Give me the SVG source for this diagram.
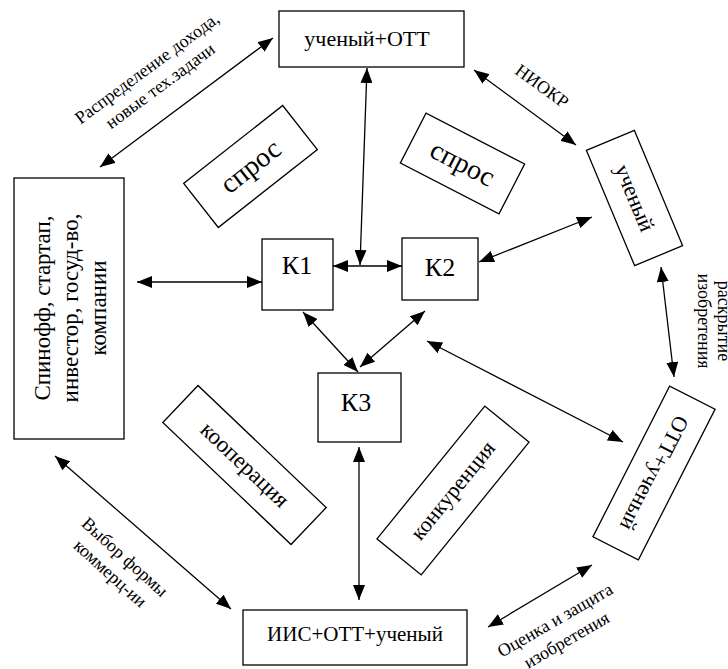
<svg xmlns="http://www.w3.org/2000/svg" width="728" height="669" viewBox="0 0 728 669">
<style>
.box{fill:#fff;stroke:#000;stroke-width:1.3}
.t{font-family:"Liberation Serif","Times New Roman",serif;fill:#000;text-anchor:middle}
.big{font-size:22px}
.k{font-size:26px}
.sp{font-size:28px}
.lbl{font-size:18px}
.c line{stroke:#000;stroke-width:1.3;marker-start:url(#ah);marker-end:url(#ah)}
</style>
<defs>
<marker id="ah" markerUnits="userSpaceOnUse" markerWidth="16" markerHeight="12" refX="15" refY="6" orient="auto-start-reverse">
<path d="M0,0 L15,6 L0,12 z" fill="#000"/>
</marker>
</defs>
<rect width="728" height="669" fill="#fff"/>

<g id="connectors" class="c">
<line x1="100" y1="167" x2="273" y2="38"/>
<line x1="367" y1="68" x2="360" y2="265"/>
<line x1="333" y1="266" x2="402" y2="266"/>
<line x1="137" y1="282" x2="262" y2="282"/>
<line x1="303" y1="312" x2="358" y2="372"/>
<line x1="425" y1="311" x2="360" y2="367"/>
<line x1="359" y1="447" x2="359" y2="600"/>
<line x1="479" y1="262" x2="592" y2="217"/>
<line x1="474" y1="70" x2="576" y2="145"/>
<line x1="661" y1="267" x2="674" y2="377"/>
<line x1="427" y1="341" x2="623" y2="442"/>
<line x1="55" y1="456" x2="231" y2="609"/>
<line x1="488" y1="627" x2="592" y2="565"/>
</g>

<g id="n_top">
<rect class="box" x="279" y="11" width="185" height="56"/>
<text class="t big" x="367" y="46">ученый+ОТТ</text>
</g>

<g id="n_left">
<rect class="box" x="14" y="178" width="110" height="261"/>
<g transform="translate(69,308) rotate(-90)">
<text class="t" font-size="23" x="0" y="-19">Спинофф, стартап,</text>
<text class="t" font-size="23" x="0" y="9">инвестор, госуд-во,</text>
<text class="t" font-size="23" x="0" y="37">компании</text>
</g>
</g>

<g id="n_k1">
<rect class="box" x="262" y="239" width="71" height="71"/>
<text class="t k" x="297" y="274">К1</text>
</g>

<g id="n_k2">
<rect class="box" x="402" y="238" width="76" height="62"/>
<text class="t k" x="440" y="276">К2</text>
</g>

<g id="n_k3">
<rect class="box" x="318" y="373" width="83" height="69"/>
<text class="t k" x="356" y="411">К3</text>
</g>

<g id="n_bottom">
<rect class="box" x="243" y="610" width="224" height="55"/>
<text class="t" font-size="21" x="355" y="641">ИИС+ОТТ+ученый</text>
</g>

<g id="n_sci" transform="translate(634.5,198) rotate(67.3)">
<rect class="box" x="-62.5" y="-26" width="125" height="52"/>
<text class="t" font-size="22" x="0" y="7">ученый</text>
</g>

<g id="n_ottsci" transform="translate(654,473) rotate(117)">
<rect class="box" x="-84.5" y="-25.5" width="169" height="51"/>
<text class="t" font-size="22" x="0" y="7">ОТТ+ученый</text>
</g>

<g id="n_spros1" transform="translate(250.5,166.5) rotate(-38.2)">
<rect class="box" x="-63" y="-28" width="126" height="56"/>
<text class="t sp" x="0" y="9">спрос</text>
</g>

<g id="n_spros2" transform="translate(462.5,163.5) rotate(27.3)">
<rect class="box" x="-55.5" y="-28" width="111" height="56"/>
<text class="t sp" x="0" y="9">спрос</text>
</g>

<g id="n_coop" transform="translate(244.5,465) rotate(43.6)">
<rect class="box" x="-88.5" y="-25.5" width="177" height="51"/>
<text class="t" font-size="23" x="0" y="7">кооперация</text>
</g>

<g id="n_comp" transform="translate(453,490.5) rotate(-50.9)">
<rect class="box" x="-85.5" y="-28.5" width="171" height="57"/>
<text class="t" font-size="22" x="0" y="7">конкуренция</text>
</g>

<g id="labels">
<g transform="translate(147,68) rotate(-36.5)">
<text class="t lbl" x="0" y="6">Распределение дохода,</text>
<text class="t lbl" x="0" y="28">новые тех.задачи</text>
</g>
<g transform="translate(542,86) rotate(36)">
<text class="t lbl" x="0" y="6">НИОКР</text>
</g>
<g transform="translate(718,321) rotate(90)">
<text class="t lbl" x="0" y="0">раскрытие</text>
<text class="t lbl" x="0" y="20">изобретения</text>
</g>
<g transform="translate(125,557) rotate(42)">
<text class="t lbl" x="0" y="6">Выбор формы</text>
<text class="t lbl" x="0" y="28">коммерц-ии</text>
</g>
<g transform="translate(555,620) rotate(-30)">
<text class="t lbl" x="0" y="6">Оценка и защита</text>
<text class="t lbl" x="0" y="29">изобретения</text>
</g>
</g>
</svg>
